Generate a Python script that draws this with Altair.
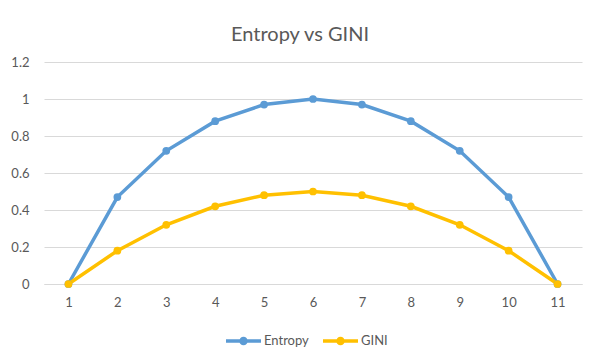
import altair as alt
import pandas as pd

categories = [1, 2, 3, 4, 5, 6, 7, 8, 9, 10, 11]
entropy = [0, 0.47, 0.72, 0.88, 0.97, 1.0, 0.97, 0.88, 0.72, 0.47, 0]
gini = [0, 0.18, 0.32, 0.42, 0.48, 0.5, 0.48, 0.42, 0.32, 0.18, 0]
series_names = ["Entropy", "GINI"]
series_colors = ["#5B9BD5", "#FFC000"]

rows = []
for name, vals in zip(series_names, [entropy, gini]):
    for c, v in zip(categories, vals):
        rows.append({"x": c, "value": v, "series": name})
df = pd.DataFrame(rows)

FONT = "Lato"
TXT = "#595959"
GRID = "#D9D9D9"

legend_path = ("M-1,0L1,0"
               "M0.143,0A0.143,0.143,0,1,1,-0.143,0A0.143,0.143,0,1,1,0.143,0"
               "M0.057,0A0.057,0.057,0,1,1,-0.057,0A0.057,0.057,0,1,1,0.057,0")

color_scale = alt.Scale(domain=series_names, range=series_colors)

x_enc = alt.X("x:O", sort=categories, title=None,
              scale=alt.Scale(paddingInner=0, paddingOuter=0, align=0.5),
              axis=alt.Axis(labelAngle=0, ticks=False, grid=False, domain=True,
                            domainColor=GRID, labelPadding=12, labelFontSize=13,
                            labelColor=TXT, labelFont=FONT))
y_enc = alt.Y("value:Q", title=None,
              scale=alt.Scale(domain=[0, 1.2], nice=False),
              axis=alt.Axis(values=[0, 0.2, 0.4, 0.6, 0.8, 1.0, 1.2], format="~g",
                            ticks=False, domain=False, gridColor=GRID, labelPadding=15,
                            labelFontSize=13, labelColor=TXT, labelFont=FONT))

lines = alt.Chart(df).mark_line(strokeWidth=3.5).encode(
    x=x_enc, y=y_enc,
    color=alt.Color("series:N", scale=color_scale, sort=series_names, title=None,
                    legend=alt.Legend(orient="none", direction="horizontal",
                                      legendX=180, legendY=259,
                                      symbolType=legend_path, symbolSize=1225,
                                      symbolStrokeWidth=3.5, labelFont=FONT,
                                      labelFontSize=13, labelColor=TXT,
                                      columnPadding=7, labelOffset=1)),
)
points = alt.Chart(df).mark_circle(size=60, opacity=1).encode(
    x=x_enc, y=y_enc,
    color=alt.Color("series:N", scale=color_scale, sort=series_names, legend=None),
)

chart = alt.layer(lines, points).properties(
    width=538, height=222,
    title=alt.TitleParams("Entropy vs GINI", font=FONT, fontSize=20, fontWeight="normal",
                          color=TXT, anchor="middle", frame="group", baseline="alphabetic",
                          offset=27, dx=-13, dy=32),
    autosize=alt.AutoSizeParams(type="none"),
    padding={"left": 36, "top": 54, "right": 11, "bottom": 69},
).configure_view(stroke=None)

chart.save("out.html", embed_options={"renderer": "svg", "actions": False})
